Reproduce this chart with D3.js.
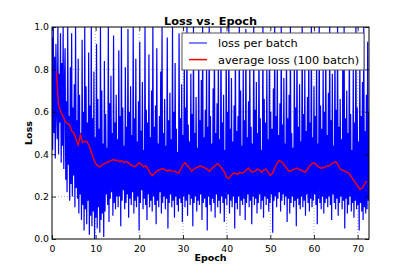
<!DOCTYPE html>
<html>
<head>
<meta charset="utf-8">
<script src="https://cdn.jsdelivr.net/npm/d3@7"></script>
<style>
  body { margin: 0; background: #fff; }
  svg { display: block; font-family: "DejaVu Sans", sans-serif; }
</style>
</head>
<body>
<div id="chart"></div>
<script>
// loss per batch, one value every 0.15 epoch
const batchStep = 0.15;
const batchLoss = [
  .95,.42,1.0,.50,.86,.38,.92,.61,.47,1.0,.40,.78,.55,.97,.36,.83,.44,1.0,.33,.74,
  .90,.28,.65,.22,1.0,.35,.58,.18,.81,.26,.97,.20,.62,.30,.73,.15,1.0,.24,.56,.19,
  .85,.12,.68,.21,.50,.09,.94,.16,.60,.04,1.0,.14,.72,.07,.55,.18,.88,.02,.63,.11,
  1.0,.06,.57,.13,.79,.00,.48,.10,.92,.05,.66,.15,.52,.03,1.0,.09,.70,.12,.45,.01,
  .84,.13,.59,.21,.43,.16,1.0,.08,.64,.19,.77,.22,.50,.11,.96,.17,.55,.14,.68,.20,
  .47,.15,.89,.20,.58,.06,1.0,.18,.62,.23,.44,.14,.81,.17,.53,.21,.99,.10,.60,.19,
  .72,.16,.49,.22,1.0,.12,.57,.18,.85,.15,.46,.20,.65,.04,.93,.17,.51,.23,.74,.14,
  .42,.19,1.0,.16,.61,.09,.55,.21,.87,.15,.48,.18,.70,.13,1.0,.20,.53,.16,.63,.07,
  .90,.18,.45,.15,.58,.22,.79,.12,1.0,.17,.50,.20,.66,.14,.44,.19,.95,.05,.56,.17,
  .69,.21,.47,.15,1.0,.18,.60,.10,.83,.20,.52,.16,.41,.13,.97,.19,.57,.17,.73,.08,
  .49,.20,.88,.15,.62,.18,1.0,.11,.54,.21,.46,.16,.78,.19,.59,.06,1.0,.17,.50,.20,
  .67,.13,.43,.18,.92,.16,.56,.21,.75,.09,1.0,.17,.48,.19,.61,.15,.84,.04,.53,.20,
  1.0,.16,.58,.13,.45,.19,.71,.17,.96,.10,.50,.21,.64,.15,.86,.18,.47,.12,1.0,.20,
  .55,.17,.68,.08,.42,.19,.90,.16,.60,.21,1.0,.12,.52,.18,.76,.15,.46,.20,.63,.05,
  .94,.17,.51,.14,.58,.20,1.0,.11,.70,.18,.44,.16,.82,.19,.56,.09,.99,.17,.48,.21,
  .65,.15,.87,.18,.53,.07,.45,.20,1.0,.16,.61,.19,.74,.12,.50,.17,.93,.21,.57,.14,
  .42,.18,1.0,.10,.66,.20,.55,.16,.80,.19,.47,.13,.97,.17,.60,.21,.52,.03,.71,.18,
  1.0,.20,.58,.15,.85,.19,.49,.22,.64,.13,1.0,.18,.54,.21,.76,.16,.45,.20,.91,.08,
  .57,.19,.68,.12,1.0,.17,.50,.20,.43,.15,.86,.18,.62,.06,.96,.19,.53,.16,.73,.14,
  .46,.20,1.0,.15,.59,.18,.80,.11,.51,.21,.67,.17,.94,.13,.55,.19,1.0,.15,.48,.18,
  .72,.21,.58,.16,.89,.07,.45,.19,1.0,.17,.63,.14,.52,.20,.83,.12,.60,.17,.97,.19,
  .49,.15,.69,.20,1.0,.16,.56,.09,.78,.21,.44,.17,.92,.14,.61,.19,1.0,.11,.53,.17,
  .66,.20,.47,.14,.85,.18,1.0,.05,.57,.19,.70,.12,.50,.16,.95,.20,.59,.13,.42,.17,
  .81,.10,.55,.18,1.0,.14,.62,.16,.46,.04,.88,.17,.58,.13,.74,.09,1.0,.15,.51,.12,
  .68,.14,.93,.18,.60
];

// average loss over 100 batches, every 0.5 epoch from epoch 1
const avgStart = 1.0;
const avgStep = 0.5;
const avgLoss = [
  .79,.63,.60,.58,.555,.545,.54,.51,.50,.47,
  .445,.49,.455,.46,.46,.44,.41,.38,.355,.345,
  .34,.35,.355,.36,.365,.37,.375,.37,.372,.365,
  .37,.36,.365,.36,.35,.345,.34,.35,.36,.35,
  .34,.345,.33,.31,.30,.31,.32,.325,.33,.33,
  .325,.32,.325,.32,.32,.315,.31,.33,.35,.36,
  .345,.335,.32,.33,.335,.34,.345,.34,.335,.33,
  .32,.33,.34,.35,.355,.345,.33,.315,.29,.285,
  .30,.31,.31,.305,.315,.31,.315,.325,.335,.32,
  .315,.32,.33,.325,.315,.325,.33,.315,.30,.31,
  .335,.355,.37,.365,.355,.34,.325,.32,.325,.33,
  .335,.33,.325,.32,.315,.33,.345,.355,.36,.35,
  .34,.335,.335,.34,.345,.345,.355,.36,.365,.35,
  .33,.325,.32,.315,.31,.295,.28,.265,.25,.235,
  .24,.255,.275
];

const xTicks = [0, 10, 20, 30, 40, 50, 60, 70];
const yTicks = [0.0, 0.2, 0.4, 0.6, 0.8, 1.0];
const seriesNames = ['loss per batch', 'average loss (100 batch)'];

const W = 411, H = 274;
const margin = { t: 27, r: 42, b: 35, l: 52 };
const xMax = 72.6;

const svg = d3.select('#chart').append('svg')
  .attr('width', W)
  .attr('height', H);

const x = d3.scaleLinear().domain([0, xMax]).range([margin.l, W - margin.r]);
const y = d3.scaleLinear().domain([0, 1]).range([H - margin.b, margin.t]);

svg.append('clipPath').attr('id', 'plotclip')
  .append('rect')
  .attr('x', x(0)).attr('y', y(1))
  .attr('width', x(xMax) - x(0)).attr('height', y(0) - y(1));

// grid
const grid = svg.append('g').attr('class', 'grid');
grid.selectAll('.gx').data(xTicks.slice(1)).enter().append('line')
  .attr('x1', d => x(d)).attr('x2', d => x(d))
  .attr('y1', y(0)).attr('y2', y(1))
  .attr('stroke', '#999').attr('stroke-width', 0.8).attr('stroke-dasharray', '1,2');
grid.selectAll('.gy').data(yTicks.slice(1, -1)).enter().append('line')
  .attr('x1', x(0)).attr('x2', x(xMax))
  .attr('y1', d => y(d)).attr('y2', d => y(d))
  .attr('stroke', '#999').attr('stroke-width', 0.8).attr('stroke-dasharray', '1,2');

const plot = svg.append('g').attr('clip-path', 'url(#plotclip)');

const batchLine = d3.line()
  .x((d, i) => x(i * batchStep))
  .y(d => y(d));

plot.append('path')
  .datum(batchLoss)
  .attr('d', batchLine)
  .attr('fill', 'none')
  .attr('stroke', '#0000ff')
  .attr('stroke-width', 1.2);

const avgLine = d3.line()
  .x((d, i) => x(avgStart + i * avgStep))
  .y(d => y(d));

plot.append('path')
  .datum(avgLoss)
  .attr('d', avgLine)
  .attr('fill', 'none')
  .attr('stroke', '#ff0000')
  .attr('stroke-width', 1.4);

// axes (ticks inward, matplotlib classic)
const xAxis = d3.axisBottom(x).tickValues(xTicks).tickSize(-4).tickPadding(6).tickFormat(d3.format('d'));
const yAxis = d3.axisLeft(y).tickValues(yTicks).tickSize(-4).tickPadding(3).tickFormat(d3.format('.1f'));

const gx = svg.append('g').attr('transform', `translate(0,${y(0)})`).call(xAxis);
const gy = svg.append('g').attr('transform', `translate(${x(0)},0)`).call(yAxis);
const gxTop = svg.append('g').attr('transform', `translate(0,${y(1)})`)
  .call(d3.axisTop(x).tickValues(xTicks).tickSize(-4).tickFormat(''));
const gyRight = svg.append('g').attr('transform', `translate(${x(xMax)},0)`)
  .call(d3.axisRight(y).tickValues(yTicks).tickSize(-4).tickFormat(''));

[gx, gy, gxTop, gyRight].forEach(g => {
  g.select('.domain').remove();
  g.selectAll('.tick line').attr('stroke', '#000').attr('stroke-width', 0.8);
  g.selectAll('text').attr('fill', '#000').style('font-size', '9.3px').style('font-family', 'DejaVu Sans');
});

// frame
svg.append('rect')
  .attr('x', x(0)).attr('y', y(1))
  .attr('width', x(xMax) - x(0)).attr('height', y(0) - y(1))
  .attr('fill', 'none').attr('stroke', '#000').attr('stroke-width', 1);

// titles
svg.append('text')
  .attr('x', (x(0) + x(xMax)) / 2).attr('y', 25)
  .attr('text-anchor', 'middle')
  .style('font-size', '11.3px').style('font-weight', 'bold')
  .text('Loss vs. Epoch');

svg.append('text')
  .attr('x', (x(0) + x(xMax)) / 2).attr('y', 260.5)
  .attr('text-anchor', 'middle')
  .style('font-size', '9.5px').style('font-weight', 'bold')
  .text('Epoch');

svg.append('text')
  .attr('transform', `translate(32,${(y(0) + y(1)) / 2}) rotate(-90)`)
  .attr('text-anchor', 'middle')
  .style('font-size', '9.5px').style('font-weight', 'bold')
  .text('Loss');

// legend
const legend = svg.append('g').attr('transform', 'translate(182,33)');
legend.append('rect')
  .attr('width', 182).attr('height', 37)
  .attr('fill', '#fff').attr('stroke', '#555').attr('stroke-width', 1);

const legendColors = ['#0000ff', '#ff0000'];
seriesNames.forEach((name, i) => {
  const ly = 10 + i * 16.6;
  legend.append('line')
    .attr('x1', 7).attr('x2', 25).attr('y1', ly).attr('y2', ly)
    .attr('stroke', legendColors[i]).attr('stroke-width', i ? 1.5 : 1);
  legend.append('text')
    .attr('x', 36).attr('y', ly + 4)
    .style('font-size', '11.3px')
    .text(name);
});
</script>
</body>
</html>
